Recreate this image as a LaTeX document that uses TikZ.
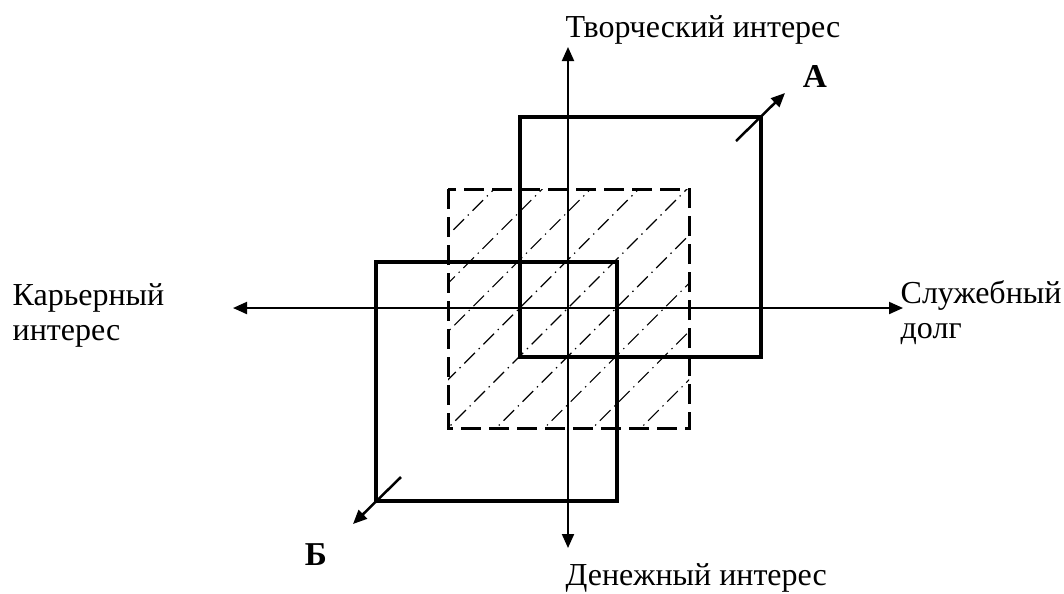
\documentclass[tikz,border=0pt]{standalone}
\usepackage{fontspec}
\setmainfont{Liberation Serif}
\usetikzlibrary{arrows.meta}

\begin{document}
\begin{tikzpicture}[x=0.3pt,y=-0.3pt,>={Triangle[length=4.2pt,width=3.6pt]},
  axis/.style={line width=0.6pt,<->},
  zone/.style={line width=1.05pt},
  midzone/.style={line width=0.9pt,dash pattern=on 6pt off 2.4pt},
  hatch/.style={line width=0.35pt,dash pattern=on 4.5pt off 1.6pt on 0.4pt off 1.6pt},
  move/.style={line width=0.75pt,->},
  lbl/.style={font=\fontsize{9.6}{10.5}\selectfont,inner sep=0pt,align=left},
  tag/.style={font=\fontsize{10}{10.5}\selectfont\bfseries,inner sep=0pt}
]
\useasboundingbox (0,0) rectangle (1064,593);

% hatched middle zone
\begin{scope}
  \clip (448,189) rectangle (689,428);
  \foreach \k in {-4,...,4}
    \draw[hatch] (448+48.2*\k-260,428+260) -- (448+48.2*\k+260,428-260);
\end{scope}
\draw[midzone] (448,189) rectangle (689,428);

% zones A and B
\draw[zone] (520,117) rectangle (761,357);
\draw[zone] (376,262) rectangle (617,501);

% axes
\coordinate (top) at (568,47);
\coordinate (bot) at (568,548);
\coordinate (left) at (233,308);
\coordinate (right) at (903,308);
\draw[axis] (bot) -- (top);
\draw[axis] (left) -- (right);

% shift arrows
\coordinate (a0) at (736,141);
\coordinate (a1) at (785,93);
\coordinate (b0) at (401,477);
\coordinate (b1) at (353,524);
\draw[move] (a0) -- (a1);
\draw[move] (b0) -- (b1);

\node[lbl,anchor=base west] (creative) at (565,37) {Творческий интерес};
\node[lbl,anchor=base west] (money) at (565,585) {Денежный интерес};
\node[lbl,anchor=north west] (career) at (12,283) {Карьерный\\интерес};
\node[lbl,anchor=north west] (duty) at (900,280) {Служебный\\долг};
\node[tag] (tagA) at (815,76) {А};
\node[tag] (tagB) at (316,555) {Б};
\end{tikzpicture}
\end{document}
